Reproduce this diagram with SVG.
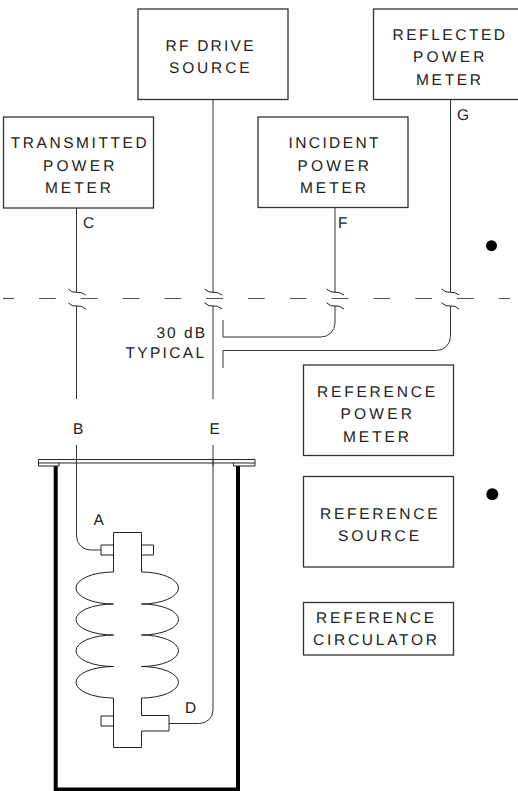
<svg xmlns="http://www.w3.org/2000/svg" width="518" height="791" viewBox="0 0 518 791">
<style>
.l{fill:none;stroke:#333;stroke-width:1}
.k{fill:none;stroke:#222;stroke-width:1}
.b{fill:#fff;stroke:#333;stroke-width:1.3}
.t{font-family:"Liberation Sans",Arial,sans-serif;font-size:15.500px;fill:#222;text-rendering:geometricPrecision}
.s{font-family:"Liberation Sans",Arial,sans-serif;font-size:15.500px;fill:#222;text-rendering:geometricPrecision}
.d{fill:none;stroke:#555;stroke-width:1.2;stroke-dasharray:16.8 25}
.w{fill:none;stroke:#000;stroke-width:4}
</style>
<rect width="518" height="791" fill="#fff"/>
<g id="divider"><path class="d" d="M39 298.500H510"/><path class="l" d="M3 298.500H14" style="stroke:#555;stroke-width:1.2"/></g>
<g id="connectors">
<path class="l" d="M76.500 208V292M76.500 306V399M213 99.500V292M213 306V399M335 207.500V292M335 306V323a14 14 0 0 1-14 14H223V320M450.500 99.500V292M450.500 306V336.500a14 14 0 0 1-14 14H223V368"/>
<path class="k" d="M68.300 289Q72 293 76.500 292.300T85.700 295M68.300 302.700Q72 307 76.500 306T85.700 309M204.500 289Q209 293 213 292.300T222.200 295M204.500 302.700Q209 307 213 306T222.200 309M326.500 289Q331 293 335 292.300T344 295M326.500 302.700Q331 307 335 306T344 309M441.500 289Q446 293 450.500 292.300T459 295M441.500 302.700Q446 307 450.500 306T459 309"/>
<path class="l" d="M76.500 445V536a14 14 0 0 0 14 14H101M213 445V710a13.500 13.500 0 0 1-13.500 13.500H169"/>
</g>
<g id="transmitted"><rect class="b" x="3.500" y="117" width="150" height="91"/><text class="t" x="10.700" y="148" textLength="136" lengthAdjust="spacing">TRANSMITTED</text><text class="t" x="43" y="170.500" textLength="71.500" lengthAdjust="spacing">POWER</text><text class="t" x="45" y="193" textLength="66" lengthAdjust="spacing">METER</text><text class="s" x="83" y="228">C</text></g>
<g id="rfdrive"><rect class="b" x="138" y="9" width="150" height="90.500"/><text class="t" x="165.500" y="51" textLength="88" lengthAdjust="spacing">RF DRIVE</text><text class="t" x="169" y="73" textLength="80.500" lengthAdjust="spacing">SOURCE</text></g>
<g id="incident"><rect class="b" x="258" y="117" width="150" height="90.500"/><text class="t" x="288.500" y="148" textLength="90" lengthAdjust="spacing">INCIDENT</text><text class="t" x="297.500" y="170.500" textLength="71.500" lengthAdjust="spacing">POWER</text><text class="t" x="300" y="193" textLength="66" lengthAdjust="spacing">METER</text><text class="s" x="338" y="227.500">F</text></g>
<g id="reflected"><rect class="b" x="373.500" y="9" width="150" height="90.500"/><text class="t" x="392.500" y="40" textLength="112.500" lengthAdjust="spacing">REFLECTED</text><text class="t" x="413" y="62" textLength="71.500" lengthAdjust="spacing">POWER</text><text class="t" x="416" y="85" textLength="65" lengthAdjust="spacing">METER</text><text class="s" x="457" y="120">G</text></g>
<g id="typical"><text class="t" x="156.500" y="337.500" textLength="48.500" lengthAdjust="spacing">30 dB</text><text class="t" x="125.500" y="358" textLength="78.500" lengthAdjust="spacing">TYPICAL</text></g>
<g id="refpower"><rect class="b" x="303.500" y="365" width="150" height="90.500"/><text class="t" x="317" y="397" textLength="118" lengthAdjust="spacing">REFERENCE</text><text class="t" x="340.500" y="419" textLength="71.500" lengthAdjust="spacing">POWER</text><text class="t" x="343" y="442" textLength="66" lengthAdjust="spacing">METER</text></g>
<g id="refsource"><rect class="b" x="303.500" y="476.500" width="150" height="90.500"/><text class="t" x="320" y="519" textLength="117.500" lengthAdjust="spacing">REFERENCE</text><text class="t" x="338" y="541" textLength="81" lengthAdjust="spacing">SOURCE</text></g>
<g id="refcirc"><rect class="b" x="303.500" y="602.500" width="150" height="52.500"/><text class="t" x="316" y="623" textLength="118" lengthAdjust="spacing">REFERENCE</text><text class="t" x="313" y="645" textLength="124" lengthAdjust="spacing">CIRCULATOR</text></g>
<g id="bullets"><circle cx="491.500" cy="245.700" r="5.500" fill="#000"/><circle cx="492.300" cy="494.300" r="6" fill="#000"/></g>
<g id="labels"><text class="s" x="73" y="434">B</text><text class="s" x="209.500" y="434">E</text><text class="s" x="93.500" y="525">A</text><text class="s" x="185" y="713">D</text></g>
<g id="cryostat">
<path class="w" d="M55.700 466V789.500H238V466"/>
<path class="k" d="M38.500 459.500H255V463H38.500ZM38.500 463V466H59V463M233.500 463V466H255V463"/>
<path class="l" d="M76.500 459V466M213 459V466"/>
</g>
<g id="cavity">
<path class="k" d="M113.500 572V532.500H141.500V572A37 16 0 0 1 141.500 604A37 15.500 0 0 1 141.500 635A37 15.750 0 0 1 141.500 666.500A37 15.750 0 0 1 141.500 698V715.500H169V731H141.500V747.500H113.500V698A37.500 15.750 0 0 1 113.500 666.500A37.500 15.750 0 0 1 113.500 635A37.500 15.500 0 0 1 113.500 604A37.500 16 0 0 1 113.500 572Z"/>
<path class="k" d="M113.500 545H101V555H113.500M141.500 545H153.500V555H141.500M113.500 716H101V726H113.500"/>
</g>
</svg>
